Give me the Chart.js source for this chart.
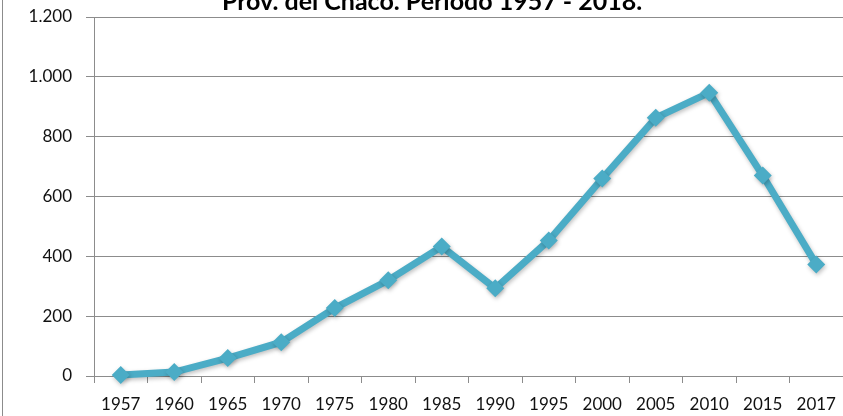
<!DOCTYPE html>
<html>
<head>
<meta charset="utf-8">
<script src="https://cdn.jsdelivr.net/npm/chart.js@4/dist/chart.umd.min.js"></script>
<style>
  body { margin: 0; background: #fff; overflow: hidden; }
  #wrap { position: absolute; left: 0; top: 0; width: 843px; height: 416px; }
  #edge { position: absolute; left: 2px; top: 0; width: 1px; height: 416px; background: #8c8c8c; }
</style>
</head>
<body>
<div id="wrap"><canvas id="lineChart" width="843" height="416"></canvas></div>
<div id="edge"></div>
<script>
const titleText = 'Prov. del Chaco. Período 1957 - 2018.';
const years = ['1957', '1960', '1965', '1970', '1975', '1980', '1985', '1990', '1995', '2000', '2005', '2010', '2015', '2017'];
const values = [3, 13, 60, 113, 227, 320, 433, 293, 453, 660, 863, 947, 670, 373];
const yTicks = [0, 200, 400, 600, 800, 1000, 1200];

const FONT = 'Lato, "Open Sans", sans-serif';

// title sits partly above the canvas, like the cropped original
const cutTitle = {
    id: 'cutTitle',
    afterDraw(chart) {
        const ctx = chart.ctx;
        ctx.save();
        ctx.font = 'bold 25px ' + FONT;
        ctx.fillStyle = '#000';
        ctx.textAlign = 'center';
        ctx.textBaseline = 'alphabetic';
        ctx.fillText(titleText, 432, 10);
        ctx.restore();
    }
};

// soft shadow under the line and markers
const lineShadow = {
    id: 'lineShadow',
    beforeDatasetsDraw(chart) {
        const ctx = chart.ctx;
        ctx.save();
        ctx.shadowColor = 'rgba(0,0,0,0.25)';
        ctx.shadowBlur = 4;
        ctx.shadowOffsetX = 1;
        ctx.shadowOffsetY = 2;
    },
    afterDatasetsDraw(chart) {
        chart.ctx.restore();
    }
};

const ctx = document.getElementById('lineChart').getContext('2d');
const lineChart = new Chart(ctx, {
    type: 'line',
    data: {
        labels: years,
        datasets: [{
            data: values,
            borderColor: '#4BACC6',
            backgroundColor: '#4BACC6',
            borderWidth: 7,
            pointStyle: 'rectRot',
            pointRadius: 9,
            pointHoverRadius: 9,
            pointBorderWidth: 0,
            tension: 0,
            clip: false
        }]
    },
    options: {
        responsive: false,
        maintainAspectRatio: false,
        animation: false,
        devicePixelRatio: 1,
        layout: { autoPadding: false, padding: { top: 17, right: 0, left: 0, bottom: 0 } },
        plugins: {
            legend: { display: false },
            tooltip: { enabled: false }
        },
        scales: {
            x: {
                type: 'category',
                offset: true,
                grid: {
                    offset: true,
                    drawOnChartArea: false,
                    drawTicks: true,
                    tickLength: 7,
                    color: '#8c8c8c'
                },
                border: { color: '#8c8c8c', width: 1 },
                ticks: {
                    color: '#111',
                    // tall line height pushes the labels down without side padding
                    font: { family: FONT, size: 17, lineHeight: 2.5 },
                    padding: 0,
                    maxRotation: 0,
                    autoSkip: false
                },
                afterFit(scale) {
                    scale.height = 40;
                }
            },
            y: {
                min: 0,
                max: 1200,
                afterBuildTicks(scale) {
                    scale.ticks = yTicks.map(v => ({ value: v }));
                },
                grid: {
                    color: '#8c8c8c',
                    tickLength: 8,
                    lineWidth: 1
                },
                border: { color: '#8c8c8c', width: 1 },
                ticks: {
                    color: '#111',
                    font: { family: FONT, size: 17 },
                    padding: 14,
                    callback: v => v.toLocaleString('es-AR')
                },
                afterFit(scale) {
                    scale.width = 94;
                    scale.paddingTop = 0;
                    scale.paddingBottom = 0;
                }
            }
        }
    },
    plugins: [cutTitle, lineShadow]
});
</script>
</body>
</html>
